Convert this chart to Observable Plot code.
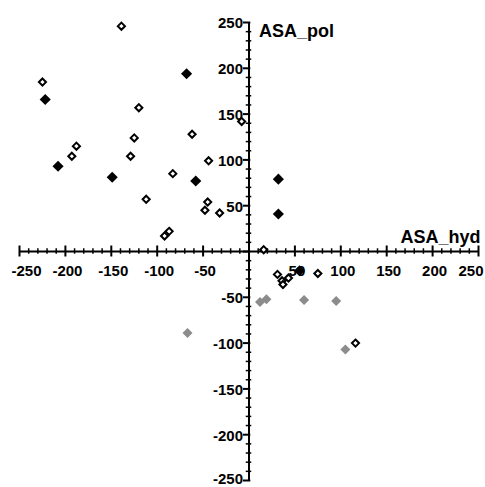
<!DOCTYPE html>
<html>
<head>
<meta charset="utf-8">
<script src="https://cdn.jsdelivr.net/npm/d3@7"></script>
<script src="https://cdn.jsdelivr.net/npm/@observablehq/plot@0.6"></script>
<style>
  html, body { margin: 0; padding: 0; background: #fff; }
</style>
</head>
<body>
<div id="chart"></div>
<script>
// Open (hollow) diamonds
const openX = [-139, -225, -120, -125, -129, -188, -193, -83, -112, -62, -44, -45, -48, -32, -92, -87, -8, 16, 31, 36, 37, 43, 75, 116];
const openY = [246, 185, 157, 124, 104, 115, 104, 85, 57, 128, 99, 54, 45, 42, 17, 22, 142, 2, -25, -32, -36, -29, -24, -100];
// Filled black diamonds
const blackX = [-222, -208, -149, -68, -58, 32, 32, 55];
const blackY = [166, 93, 81, 194, 77, 79, 41, -21];
// Filled gray diamonds
const grayX = [12, 19, 60, 95, -67, 105];
const grayY = [-55, -52, -53, -54, -89, -107];

// Axis tick labels
const xTickLabels = [-250, -200, -150, -100, -50, 50, 100, 150, 200, 250];
const yTickLabels = [250, 200, 150, 100, 50, -50, -100, -150, -200, -250];
const majorTicks = [-250, -200, -150, -100, -50, 0, 50, 100, 150, 200, 250];
const minorTicks = d3.range(-250, 251, 10).filter(v => v % 50 !== 0);

const toPts = (xs, ys) => xs.map((x, i) => ({x, y: ys[i]}));
const openPts = toPts(openX, openY);
const blackPts = toPts(blackX, blackY);
const grayPts = toPts(grayX, grayY);

const font = "'Liberation Sans', Arial, sans-serif";
const lbl = {fontSize: 15, fontWeight: "bold", fill: "#000", text: d => String(d)};

const chart = Plot.plot({
  width: 485,
  height: 487,
  marginLeft: 19,
  marginRight: 7,
  marginTop: 22,
  marginBottom: 7,
  x: {domain: [-250, 250], axis: null},
  y: {domain: [-250, 250], axis: null},
  style: {fontFamily: font, background: "#fff", overflow: "visible"},
  marks: [
    // axis lines
    Plot.ruleY([0], {x1: -250, x2: 250, stroke: "#000", strokeWidth: 2}),
    Plot.ruleX([0], {y1: -250, y2: 250, stroke: "#000", strokeWidth: 2}),
    // x-axis ticks
    Plot.ruleX(minorTicks, {x: d => d, y1: -3, y2: 3, stroke: "#000", strokeWidth: 1.5}),
    Plot.ruleX(majorTicks, {x: d => d, y1: -6, y2: 6, stroke: "#000", strokeWidth: 2}),
    // y-axis ticks
    Plot.ruleY(minorTicks, {y: d => d, x1: -3, x2: 3, stroke: "#000", strokeWidth: 1.5}),
    Plot.ruleY(majorTicks, {y: d => d, x1: -6, x2: 2, stroke: "#000", strokeWidth: 2}),
    // x tick labels (edge labels kept inside the frame)
    Plot.text(xTickLabels.slice(0, 1), {...lbl, x: d => d, y: 0, dx: -8, dy: 20, textAnchor: "start"}),
    Plot.text(xTickLabels.slice(1, -1), {...lbl, x: d => d, y: 0, dx: 2, dy: 20}),
    Plot.text(xTickLabels.slice(-1), {...lbl, x: d => d, y: 0, dx: 5, dy: 20, textAnchor: "end"}),
    // y tick labels
    Plot.text(yTickLabels.slice(0, -1), {...lbl, x: 0, y: d => d, dx: -6, dy: 1, textAnchor: "end"}),
    Plot.text(yTickLabels.slice(-1), {...lbl, x: 0, y: d => d, dx: -6, dy: -1, textAnchor: "end"}),
    // axis titles
    Plot.text(["ASA_pol"], {x: 0, y: 250, dx: 10, dy: 14, text: d => d, textAnchor: "start", lineAnchor: "bottom", fontSize: 18, fontWeight: "bold", fill: "#000"}),
    Plot.text(["ASA_hyd"], {x: 250, y: 0, dx: 2, dy: -9, text: d => d, textAnchor: "end", lineAnchor: "bottom", fontSize: 18, fontWeight: "bold", fill: "#000"}),
    // data
    Plot.dot(grayPts, {x: "x", y: "y", symbol: "diamond2", r: 4.5, fill: "#8c8c8c", stroke: "none"}),
    Plot.dot(openPts, {x: "x", y: "y", symbol: "diamond2", r: 3.2, fill: "#fff", stroke: "#000", strokeWidth: 2}),
    Plot.dot(blackPts, {x: "x", y: "y", symbol: "diamond2", r: 5, fill: "#000", stroke: "none"})
  ]
});
document.getElementById("chart").appendChild(chart);
</script>
</body>
</html>
